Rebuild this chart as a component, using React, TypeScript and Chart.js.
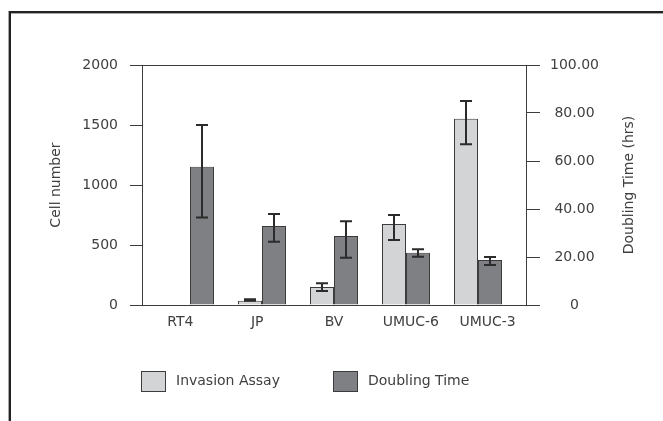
import React, { useEffect, useRef } from "react";
import { Chart, registerables } from "chart.js";

Chart.register(...registerables);

const categories = ["RT4", "JP", "BV", "UMUC-6", "UMUC-3"];
const invasionValues = [5, 35, 150, 675, 1553];
const invasionLow = [5, 35, 117, 542, 1339];
const invasionHigh = [5, 47, 181, 750, 1700];
const doublingValues = [57.6, 32.9, 28.8, 21.8, 18.8];
const doublingLow = [36.5, 26.4, 19.7, 20.1, 16.7];
const doublingHigh = [75.0, 37.9, 34.9, 23.2, 20.0];
const leftTicks = [0, 500, 1000, 1500, 2000];
const rightTicks = [0, 20, 40, 60, 80, 100];
const seriesNames = ["Invasion Assay", "Doubling Time"];
const leftTitle = "Cell number";
const rightTitle = "Doubling Time (hrs)";
// x axis in units of one bar-group spacing
const xMax = 16 / 3;
const groupPositions = [2 / 3, 5 / 3, 8 / 3, 11 / 3, 14 / 3];
const labelPositions = [0.5333, 1.6, 2.6667, 3.7333, 4.8];

const FONT = "'DejaVu Sans', sans-serif";
const TXT = "#404040";
const LINE = "#3c3c3c";
const LIGHT = "#d3d4d6";
const DARK = "#7f8084";

const lows = [invasionLow, doublingLow];
const highs = [invasionHigh, doublingHigh];

const errorBarPlugin = {
  id: "errorBars",
  afterDatasetsDraw(chart: any) {
    const ctx = chart.ctx;
    ctx.save();
    ctx.strokeStyle = "#2b2b2b";
    ctx.lineWidth = 2;
    chart.data.datasets.forEach((ds: any, di: number) => {
      const meta = chart.getDatasetMeta(di);
      const vs = meta.vScale;
      meta.data.forEach((el: any, i: number) => {
        const lo = lows[di][i];
        const hi = highs[di][i];
        if (hi - lo < 1e-9) return;
        const x = Math.round(el.x);
        const yl = vs.getPixelForValue(lo);
        const yh = vs.getPixelForValue(hi);
        ctx.beginPath();
        ctx.moveTo(x, yl);
        ctx.lineTo(x, yh);
        ctx.moveTo(x - 6, yl);
        ctx.lineTo(x + 6, yl);
        ctx.moveTo(x - 6, yh);
        ctx.lineTo(x + 6, yh);
        ctx.stroke();
      });
    });
    ctx.restore();
  },
};

const framePlugin = {
  id: "frameAndLegend",
  beforeDraw(chart: any) {
    const ctx = chart.ctx;
    ctx.save();
    ctx.fillStyle = "#ffffff";
    ctx.fillRect(0, 0, chart.width, chart.height);
    ctx.fillStyle = "#a8a8a8";
    ctx.fillRect(8, 11, 1, chart.height);
    ctx.fillRect(9, 13, chart.width, 1);
    ctx.fillStyle = "#222222";
    ctx.fillRect(9, 11, 2, chart.height);
    ctx.fillRect(9, 11, chart.width, 2);
    ctx.restore();
  },
  afterDraw(chart: any) {
    const ctx = chart.ctx;
    const a = chart.chartArea;
    ctx.save();
    ctx.strokeStyle = LINE;
    ctx.lineWidth = 1;
    ctx.strokeRect(Math.round(a.left) + 0.5, Math.round(a.top) + 0.5, Math.round(a.right - a.left), Math.round(a.bottom - a.top));
    // right axis title, reading bottom-to-top
    ctx.font = `14px ${FONT}`;
    ctx.fillStyle = TXT;
    ctx.save();
    ctx.translate(629, (a.top + a.bottom) / 2);
    ctx.rotate(-Math.PI / 2);
    ctx.textAlign = "center";
    ctx.textBaseline = "middle";
    ctx.fillText(rightTitle, 0, 0);
    ctx.restore();
    // legend
    const items = [
      { x: 141, color: LIGHT },
      { x: 333, color: DARK },
    ];
    ctx.textBaseline = "middle";
    ctx.textAlign = "left";
    items.forEach((it, i) => {
      ctx.fillStyle = it.color;
      ctx.fillRect(it.x, 371, 24, 20);
      ctx.strokeStyle = LINE;
      ctx.strokeRect(it.x + 0.5, 371.5, 24, 20);
      ctx.fillStyle = TXT;
      ctx.fillText(seriesNames[i], it.x + 35, 381);
    });
    ctx.restore();
  },
};

export default function App() {
  const ref = useRef<HTMLCanvasElement>(null);
  useEffect(() => {
    if (!ref.current) return;
    const chart = new Chart(ref.current, {
      type: "bar",
      data: {
        datasets: [
          {
            label: seriesNames[0],
            data: invasionValues.map((v, i) => ({ x: groupPositions[i], y: v })),
            backgroundColor: LIGHT,
            borderColor: LINE,
            borderWidth: 1,
            yAxisID: "y",
            categoryPercentage: 2 / 3,
            barPercentage: 1,
          } as any,
          {
            label: seriesNames[1],
            data: doublingValues.map((v, i) => ({ x: groupPositions[i], y: v })),
            backgroundColor: DARK,
            borderColor: LINE,
            borderWidth: 1,
            yAxisID: "y1",
            categoryPercentage: 2 / 3,
            barPercentage: 1,
          } as any,
        ],
      },
      options: {
        responsive: false,
        animation: false,
        layout: { padding: { top: 65, left: 0, right: 0, bottom: 0 } },
        plugins: { legend: { display: false }, tooltip: { enabled: false } },
        scales: {
          x: {
            type: "linear",
            position: "bottom",
            min: 0,
            max: xMax,
            offset: false,
            afterBuildTicks: (s: any) => { s.ticks = labelPositions.map((v) => ({ value: v })); },
            grid: { display: false, drawTicks: false },
            border: { display: false },
            ticks: {
              font: { family: FONT, size: 14 },
              color: TXT,
              padding: 9,
              maxRotation: 0,
              autoSkip: false,
              callback: (_v: any, i: number) => categories[i],
            },
            afterFit: (s: any) => { s.height = 116; },
          },
          y: {
            type: "linear",
            position: "left",
            min: 0,
            max: 2000,
            afterBuildTicks: (s: any) => { s.ticks = leftTicks.map((v) => ({ value: v })); },
            grid: { drawOnChartArea: false, drawTicks: true, tickLength: 12, color: LINE },
            border: { display: false },
            ticks: { font: { family: FONT, size: 14 }, color: TXT, padding: 12, callback: (v: any) => String(v) },
            title: { display: true, text: leftTitle, font: { family: FONT, size: 14 }, color: TXT, padding: { top: 48, bottom: 0 } },
            afterFit: (s: any) => { s.width = 142; },
          },
          y1: {
            type: "linear",
            position: "right",
            min: 0,
            max: 100,
            afterBuildTicks: (s: any) => { s.ticks = rightTicks.map((v) => ({ value: v })); },
            grid: { drawOnChartArea: false, drawTicks: true, tickLength: 14, color: LINE },
            border: { display: false },
            ticks: {
              font: { family: FONT, size: 14 },
              color: TXT,
              padding: 10,
              crossAlign: "center",
              callback: (v: any) => (Number(v) === 0 ? "0" : Number(v).toFixed(2)),
            },
            afterFit: (s: any) => { s.width = 137; },
          },
        },
      } as any,
      plugins: [errorBarPlugin, framePlugin],
    });
    return () => chart.destroy();
  }, []);
  return (
    <div style={{ position: "fixed", left: 0, top: 0, width: 663, height: 421 }}>
      <canvas ref={ref} width={663} height={421} style={{ display: "block" }} />
    </div>
  );
}
